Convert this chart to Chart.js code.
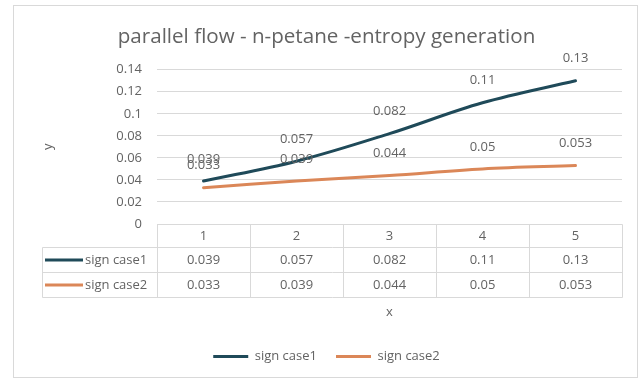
<!DOCTYPE html>
<html>
<head>
<meta charset="utf-8">
<script src="https://cdn.jsdelivr.net/npm/chart.js@4/dist/chart.umd.min.js"></script>
<style>
  html, body { margin: 0; padding: 0; background: #ffffff; }
  canvas { display: block; }
</style>
</head>
<body>
<canvas id="chart" width="643" height="380"></canvas>
<script>
// Entropy generation, parallel flow with n-pentane
const categories = ['1', '2', '3', '4', '5'];
const signCase1 = [0.039, 0.057, 0.082, 0.11, 0.13];
const signCase2 = [0.033, 0.039, 0.044, 0.05, 0.053];
const seriesNames = ['sign case1', 'sign case2'];
const yTickLabels = ['0', '0.02', '0.04', '0.06', '0.08', '0.1', '0.12', '0.14'];

const COLORS = ['#1f4a59', '#db8758'];
const TEXT = '#636363';
const GRID = '#d9d9d9';
const FONT = '"Open Sans", "DejaVu Sans", sans-serif';
const SMALL = 13;

// white page with the thin frame around the chart
const frame = {
  id: 'frame',
  beforeDraw(chart) {
    const { ctx, width, height } = chart;
    ctx.save();
    ctx.fillStyle = '#ffffff';
    ctx.fillRect(0, 0, width, height);
    ctx.strokeStyle = GRID;
    ctx.lineWidth = 1;
    ctx.strokeRect(13.5, 5.5, 624, 372);
    ctx.restore();
  }
};

// value labels above each point
const valueLabels = {
  id: 'valueLabels',
  afterDatasetsDraw(chart) {
    const { ctx } = chart;
    ctx.save();
    ctx.font = SMALL + 'px ' + FONT;
    ctx.fillStyle = TEXT;
    ctx.textAlign = 'center';
    ctx.textBaseline = 'middle';
    chart.data.datasets.forEach((ds, di) => {
      const meta = chart.getDatasetMeta(di);
      meta.data.forEach((pt, i) => {
        ctx.fillText(String(ds.data[i]), pt.x, pt.y - 22);
      });
    });
    ctx.restore();
  }
};

// data table under the plot: category row plus one row per series
const dataTable = {
  id: 'dataTable',
  afterDraw(chart) {
    const { ctx, chartArea, scales } = chart;
    const x = scales.x;
    const n = categories.length;
    const top = Math.round(chartArea.bottom) + 0.5;
    const rows = [top, top + 23, top + 48, top + 73];
    const left = 42.5;
    const step = x.getPixelForValue(1) - x.getPixelForValue(0);
    const edges = [];
    for (let i = 0; i <= n; i++) {
      edges.push(Math.round(x.getPixelForValue(0) - step / 2 + i * step) + 0.5);
    }
    ctx.save();
    ctx.strokeStyle = GRID;
    ctx.lineWidth = 1;
    ctx.beginPath();
    ctx.moveTo(edges[0], rows[0]); ctx.lineTo(edges[n], rows[0]);
    for (let r = 1; r < rows.length; r++) {
      ctx.moveTo(left, rows[r]); ctx.lineTo(edges[n], rows[r]);
    }
    ctx.moveTo(left, rows[1]); ctx.lineTo(left, rows[3]);
    edges.forEach(e => { ctx.moveTo(e, rows[0]); ctx.lineTo(e, rows[3]); });
    ctx.stroke();

    ctx.font = SMALL + 'px ' + FONT;
    ctx.fillStyle = TEXT;
    ctx.textAlign = 'center';
    ctx.textBaseline = 'middle';
    categories.forEach((c, i) => {
      ctx.fillText(c, x.getPixelForValue(i), (rows[0] + rows[1]) / 2);
    });
    chart.data.datasets.forEach((ds, di) => {
      const cy = (rows[di + 1] + rows[di + 2]) / 2;
      ds.data.forEach((v, i) => {
        ctx.fillText(String(v), x.getPixelForValue(i), cy);
      });
    });
    chart.data.datasets.forEach((ds, di) => {
      const cy = (rows[di + 1] + rows[di + 2]) / 2;
      ctx.strokeStyle = ds.borderColor;
      ctx.lineWidth = 3;
      ctx.beginPath();
      ctx.moveTo(45, cy); ctx.lineTo(83, cy);
      ctx.stroke();
      ctx.textAlign = 'left';
      ctx.fillText(ds.label, 85, cy);
    });
    ctx.restore();
  }
};

new Chart(document.getElementById('chart'), {
  type: 'line',
  data: {
    labels: categories,
    datasets: [
      { label: seriesNames[0], data: signCase1, borderColor: COLORS[0], backgroundColor: COLORS[0] },
      { label: seriesNames[1], data: signCase2, borderColor: COLORS[1], backgroundColor: COLORS[1] }
    ]
  },
  options: {
    responsive: false,
    animation: false,
    devicePixelRatio: 1,
    layout: { padding: { left: 31, right: 21, top: 0, bottom: 7 } },
    elements: {
      line: { borderWidth: 3, tension: 0.35, borderCapStyle: 'round' },
      point: { radius: 0, hoverRadius: 0 }
    },
    plugins: {
      title: {
        display: true,
        text: 'parallel flow - n-petane -entropy generation',
        color: TEXT,
        font: { family: FONT, size: 20.6, weight: 'normal', lineHeight: 1.2 },
        padding: { top: 25, bottom: 20 }
      },
      legend: {
        position: 'bottom',
        labels: {
          color: TEXT,
          font: { family: FONT, size: SMALL },
          boxWidth: 35,
          boxHeight: 3,
          padding: 19,
          // flat line swatches without the stroke border
          generateLabels(chart) {
            return Chart.defaults.plugins.legend.labels.generateLabels(chart)
              .map(item => Object.assign(item, { lineWidth: 0 }));
          }
        }
      },
      tooltip: { enabled: false }
    },
    scales: {
      x: {
        offset: true,
        grid: { display: false, drawTicks: false },
        border: { display: false },
        ticks: { display: false },
        title: {
          display: true,
          text: 'x',
          color: TEXT,
          font: { family: FONT, size: SMALL },
          padding: { top: 0, bottom: 11 }
        },
        afterFit(scale) { scale.height = 107; }
      },
      y: {
        min: 0,
        max: 0.14,
        grid: { color: GRID, lineWidth: 1, drawTicks: false },
        border: { display: false },
        ticks: {
          stepSize: 0.02,
          padding: 15,
          color: TEXT,
          font: { family: FONT, size: SMALL },
          callback: (v, i) => yTickLabels[i]
        },
        title: {
          display: true,
          text: 'y',
          color: TEXT,
          font: { family: FONT, size: SMALL },
          padding: { top: 9, bottom: 0 }
        },
        afterFit(scale) { scale.width = 126; }
      }
    }
  },
  plugins: [frame, valueLabels, dataTable]
});
</script>
</body>
</html>
